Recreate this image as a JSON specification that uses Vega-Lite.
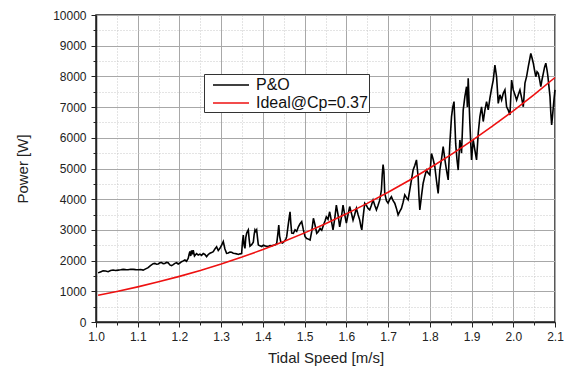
{
  "$schema": "https://vega.github.io/schema/vega-lite/v6.json",
  "autosize": {"type": "none"},
  "width": 459,
  "height": 307,
  "padding": {"left": 96, "top": 15, "right": 9, "bottom": 47},
  "background": "white",
  "config": {
    "font": "Liberation Sans",
    "view": {"stroke": "#222", "strokeWidth": 1.5},
    "axis": {"labelFont": "Liberation Sans", "titleFont": "Liberation Sans", "labelColor": "#222", "titleColor": "#222", "titleFontWeight": "normal"}
  },
  "datasets": {
    "po": [
      {"v":1.005,"p":1600},{"v":1.012,"p":1640},{"v":1.017,"p":1670},{"v":1.023,"p":1660},{"v":1.029,"p":1640},{"v":1.035,"p":1680},{"v":1.041,"p":1695},{"v":1.047,"p":1680},{"v":1.053,"p":1690},{"v":1.059,"p":1700},{"v":1.065,"p":1715},{"v":1.071,"p":1705},{"v":1.077,"p":1700},{"v":1.083,"p":1720},{"v":1.089,"p":1715},{"v":1.095,"p":1705},{"v":1.101,"p":1700},{"v":1.107,"p":1710},{"v":1.113,"p":1690},{"v":1.119,"p":1730},{"v":1.125,"p":1770},{"v":1.129,"p":1820},{"v":1.133,"p":1860},{"v":1.137,"p":1900},{"v":1.141,"p":1910},{"v":1.145,"p":1880},{"v":1.149,"p":1890},{"v":1.153,"p":1930},{"v":1.157,"p":1935},{"v":1.161,"p":1900},{"v":1.165,"p":1905},{"v":1.169,"p":1940},{"v":1.173,"p":1930},{"v":1.177,"p":1860},{"v":1.181,"p":1835},{"v":1.185,"p":1870},{"v":1.189,"p":1910},{"v":1.193,"p":1930},{"v":1.197,"p":1890},{"v":1.201,"p":1920},{"v":1.205,"p":1965},{"v":1.209,"p":1990},{"v":1.213,"p":2020},{"v":1.217,"p":1980},{"v":1.221,"p":2075},{"v":1.223,"p":2200},{"v":1.225,"p":2300},{"v":1.227,"p":2150},{"v":1.229,"p":2330},{"v":1.231,"p":2200},{"v":1.233,"p":2340},{"v":1.236,"p":2150},{"v":1.241,"p":2230},{"v":1.245,"p":2180},{"v":1.249,"p":2210},{"v":1.253,"p":2170},{"v":1.257,"p":2230},{"v":1.261,"p":2200},{"v":1.265,"p":2130},{"v":1.269,"p":2200},{"v":1.273,"p":2240},{"v":1.277,"p":2260},{"v":1.281,"p":2290},{"v":1.285,"p":2380},{"v":1.289,"p":2450},{"v":1.293,"p":2330},{"v":1.297,"p":2400},{"v":1.301,"p":2500},{"v":1.305,"p":2620},{"v":1.309,"p":2380},{"v":1.313,"p":2240},{"v":1.317,"p":2250},{"v":1.321,"p":2280},{"v":1.325,"p":2270},{"v":1.329,"p":2240},{"v":1.333,"p":2230},{"v":1.337,"p":2220},{"v":1.341,"p":2200},{"v":1.345,"p":2220},{"v":1.349,"p":2230},{"v":1.351,"p":2600},{"v":1.353,"p":2830},{"v":1.355,"p":2500},{"v":1.357,"p":2400},{"v":1.359,"p":2750},{"v":1.361,"p":2890},{"v":1.363,"p":2950},{"v":1.365,"p":3000},{"v":1.367,"p":2700},{"v":1.369,"p":2470},{"v":1.373,"p":2520},{"v":1.377,"p":2600},{"v":1.379,"p":2850},{"v":1.381,"p":3000},{"v":1.383,"p":2950},{"v":1.385,"p":3000},{"v":1.387,"p":2750},{"v":1.389,"p":2510},{"v":1.393,"p":2480},{"v":1.397,"p":2460},{"v":1.401,"p":2500},{"v":1.405,"p":2480},{"v":1.409,"p":2470},{"v":1.413,"p":2460},{"v":1.417,"p":2490},{"v":1.421,"p":2480},{"v":1.425,"p":2500},{"v":1.429,"p":2510},{"v":1.433,"p":2550},{"v":1.436,"p":2900},{"v":1.438,"p":3160},{"v":1.440,"p":2800},{"v":1.443,"p":2600},{"v":1.447,"p":2570},{"v":1.451,"p":2620},{"v":1.455,"p":2700},{"v":1.457,"p":2780},{"v":1.460,"p":3100},{"v":1.463,"p":3400},{"v":1.465,"p":3590},{"v":1.467,"p":3200},{"v":1.469,"p":2900},{"v":1.473,"p":2890},{"v":1.477,"p":3000},{"v":1.481,"p":2950},{"v":1.485,"p":3100},{"v":1.489,"p":3200},{"v":1.493,"p":3270},{"v":1.497,"p":3000},{"v":1.501,"p":2780},{"v":1.505,"p":2720},{"v":1.509,"p":2700},{"v":1.513,"p":2670},{"v":1.517,"p":2950},{"v":1.521,"p":3380},{"v":1.525,"p":3150},{"v":1.529,"p":2890},{"v":1.533,"p":2950},{"v":1.537,"p":3050},{"v":1.541,"p":2990},{"v":1.545,"p":3150},{"v":1.549,"p":3300},{"v":1.552,"p":3430},{"v":1.556,"p":3350},{"v":1.560,"p":3590},{"v":1.564,"p":3300},{"v":1.568,"p":3000},{"v":1.572,"p":3350},{"v":1.576,"p":3810},{"v":1.580,"p":3500},{"v":1.584,"p":3100},{"v":1.588,"p":3400},{"v":1.592,"p":3810},{"v":1.596,"p":3500},{"v":1.600,"p":3220},{"v":1.604,"p":3500},{"v":1.608,"p":3760},{"v":1.612,"p":3550},{"v":1.616,"p":3320},{"v":1.620,"p":3500},{"v":1.624,"p":3700},{"v":1.628,"p":3500},{"v":1.632,"p":3320},{"v":1.635,"p":3100},{"v":1.637,"p":3000},{"v":1.640,"p":3400},{"v":1.644,"p":3870},{"v":1.648,"p":3800},{"v":1.652,"p":3700},{"v":1.656,"p":3650},{"v":1.660,"p":3800},{"v":1.664,"p":3970},{"v":1.668,"p":3800},{"v":1.672,"p":3650},{"v":1.676,"p":3800},{"v":1.680,"p":3970},{"v":1.684,"p":4300},{"v":1.686,"p":4800},{"v":1.688,"p":5130},{"v":1.690,"p":4900},{"v":1.692,"p":4200},{"v":1.696,"p":3950},{"v":1.700,"p":3870},{"v":1.704,"p":4000},{"v":1.708,"p":4080},{"v":1.712,"p":3950},{"v":1.716,"p":3870},{"v":1.720,"p":3700},{"v":1.724,"p":3490},{"v":1.728,"p":3600},{"v":1.732,"p":3700},{"v":1.736,"p":3900},{"v":1.740,"p":4140},{"v":1.744,"p":4050},{"v":1.748,"p":3980},{"v":1.752,"p":4300},{"v":1.756,"p":4630},{"v":1.760,"p":4950},{"v":1.764,"p":5100},{"v":1.768,"p":5280},{"v":1.770,"p":5000},{"v":1.772,"p":4730},{"v":1.774,"p":4100},{"v":1.776,"p":3650},{"v":1.780,"p":4100},{"v":1.784,"p":4520},{"v":1.788,"p":4750},{"v":1.792,"p":4950},{"v":1.796,"p":4850},{"v":1.800,"p":4790},{"v":1.804,"p":5490},{"v":1.808,"p":5300},{"v":1.812,"p":5060},{"v":1.816,"p":4600},{"v":1.820,"p":4190},{"v":1.824,"p":4950},{"v":1.828,"p":5300},{"v":1.832,"p":5710},{"v":1.836,"p":5300},{"v":1.840,"p":4950},{"v":1.844,"p":4630},{"v":1.848,"p":5820},{"v":1.852,"p":6690},{"v":1.855,"p":7000},{"v":1.858,"p":7180},{"v":1.862,"p":5800},{"v":1.865,"p":5300},{"v":1.868,"p":4950},{"v":1.872,"p":5930},{"v":1.876,"p":5500},{"v":1.880,"p":6900},{"v":1.884,"p":7340},{"v":1.888,"p":7665},{"v":1.890,"p":7000},{"v":1.892,"p":7940},{"v":1.896,"p":6470},{"v":1.900,"p":5280},{"v":1.904,"p":5930},{"v":1.908,"p":5600},{"v":1.912,"p":5280},{"v":1.916,"p":6150},{"v":1.920,"p":6690},{"v":1.924,"p":7010},{"v":1.928,"p":6530},{"v":1.932,"p":6900},{"v":1.936,"p":7180},{"v":1.940,"p":6910},{"v":1.944,"p":7290},{"v":1.948,"p":7600},{"v":1.952,"p":7880},{"v":1.956,"p":8370},{"v":1.960,"p":7990},{"v":1.964,"p":7120},{"v":1.968,"p":7400},{"v":1.972,"p":7230},{"v":1.976,"p":7450},{"v":1.980,"p":7560},{"v":1.984,"p":7010},{"v":1.988,"p":6900},{"v":1.992,"p":6740},{"v":1.996,"p":7880},{"v":2.000,"p":7560},{"v":2.004,"p":7400},{"v":2.008,"p":7230},{"v":2.012,"p":7400},{"v":2.016,"p":7560},{"v":2.020,"p":7300},{"v":2.024,"p":7010},{"v":2.028,"p":7780},{"v":2.032,"p":8000},{"v":2.036,"p":8320},{"v":2.040,"p":8600},{"v":2.042,"p":8750},{"v":2.045,"p":8600},{"v":2.048,"p":8430},{"v":2.051,"p":8200},{"v":2.054,"p":7990},{"v":2.057,"p":8150},{"v":2.060,"p":8100},{"v":2.063,"p":7900},{"v":2.066,"p":7670},{"v":2.069,"p":7900},{"v":2.072,"p":8100},{"v":2.075,"p":8300},{"v":2.078,"p":8430},{"v":2.081,"p":8200},{"v":2.083,"p":8000},{"v":2.086,"p":7600},{"v":2.088,"p":7340},{"v":2.090,"p":6800},{"v":2.092,"p":6420},{"v":2.094,"p":6700},{"v":2.096,"p":7010},{"v":2.098,"p":7300},{"v":2.100,"p":7560}
    ],
    "ideal": [
      {"v":1.005,"p":873},{"v":1.05,"p":996},{"v":1.1,"p":1145},{"v":1.15,"p":1308},{"v":1.2,"p":1486},{"v":1.25,"p":1680},{"v":1.3,"p":1889},{"v":1.35,"p":2116},{"v":1.4,"p":2360},{"v":1.45,"p":2622},{"v":1.5,"p":2903},{"v":1.55,"p":3203},{"v":1.6,"p":3523},{"v":1.65,"p":3863},{"v":1.7,"p":4225},{"v":1.75,"p":4609},{"v":1.8,"p":5016},{"v":1.85,"p":5445},{"v":1.9,"p":5899},{"v":1.95,"p":6377},{"v":2.0,"p":6880},{"v":2.05,"p":7409},{"v":2.1,"p":7964}
    ]
  },
  "resolve": {"axis": {"x": "independent", "y": "independent"}},
  "layer": [
    {
      "data": {"name": "ideal"},
      "mark": {"type": "point", "opacity": 0},
      "encoding": {
        "x": {"field": "v", "type": "quantitative", "scale": {"domain": [1.0, 2.1], "nice": false, "zero": false},
          "axis": {"orient": "bottom", "values": [1.05,1.15,1.25,1.35,1.45,1.55,1.65,1.75,1.85,1.95,2.05], "labels": false, "domain": false, "title": null, "tickSize": 3, "tickColor": "#222", "grid": true, "gridColor": "#c8c8c8", "gridDash": [1, 2], "gridWidth": 1}},
        "y": {"field": "p", "type": "quantitative", "scale": {"domain": [0, 10000], "nice": false},
          "axis": {"orient": "left", "values": [500,1500,2500,3500,4500,5500,6500,7500,8500,9500], "labels": false, "domain": false, "title": null, "tickSize": 3, "tickColor": "#222", "grid": true, "gridColor": "#c8c8c8", "gridDash": [1, 2], "gridWidth": 1}}
      }
    },
    {
      "layer": [
        {
          "data": {"name": "po"},
          "transform": [{"calculate": "'P&O'", "as": "s"}],
          "mark": {"type": "line", "strokeWidth": 1.6},
          "encoding": {
            "x": {"field": "v", "type": "quantitative"},
            "y": {"field": "p", "type": "quantitative"},
            "color": {"field": "s", "type": "nominal"}
          }
        },
        {
          "data": {"name": "ideal"},
          "transform": [{"calculate": "'Ideal@Cp=0.37'", "as": "s"}],
          "mark": {"type": "line", "strokeWidth": 1.6},
          "encoding": {
            "x": {"field": "v", "type": "quantitative"},
            "y": {"field": "p", "type": "quantitative"},
            "color": {"field": "s", "type": "nominal"}
          }
        }
      ],
      "encoding": {
        "x": {"field": "v", "type": "quantitative",
          "axis": {"orient": "bottom", "values": [1.0,1.1,1.2,1.3,1.4,1.5,1.6,1.7,1.8,1.9,2.0,2.1], "format": ".1f", "title": "Tidal Speed [m/s]", "titleFontSize": 15, "titlePadding": 8, "labelFontSize": 12, "labelPadding": 4, "tickSize": 5, "tickColor": "#222", "domainColor": "#222", "domainWidth": 1.5, "grid": true, "gridColor": "#a8a8a8", "gridWidth": 1, "labelFlush": false}},
        "y": {"field": "p", "type": "quantitative",
          "axis": {"orient": "left", "values": [0,1000,2000,3000,4000,5000,6000,7000,8000,9000,10000], "format": "d", "title": "Power [W]", "titleFontSize": 15, "titlePadding": 22, "labelFontSize": 12, "labelPadding": 5, "tickSize": 5, "tickColor": "#222", "domainColor": "#222", "domainWidth": 1.5, "grid": true, "gridColor": "#a8a8a8", "gridWidth": 1, "labelFlush": false}},
        "color": {"field": "s", "type": "nominal",
          "scale": {"domain": ["P&O", "Ideal@Cp=0.37"], "range": ["#000000", "#ee1111"]},
          "legend": {"title": null, "orient": "none", "legendX": 108, "legendY": 59, "padding": 1, "symbolType": "M-3,0H1", "symbolSize": 324, "symbolStrokeWidth": 1.5, "symbolOffset": 25, "labelOffset": 6, "labelFontSize": 16, "labelFont": "Liberation Sans", "labelColor": "#111", "rowPadding": 0, "fillColor": "white", "strokeColor": "#333"}}
      }
    }
  ]
}
